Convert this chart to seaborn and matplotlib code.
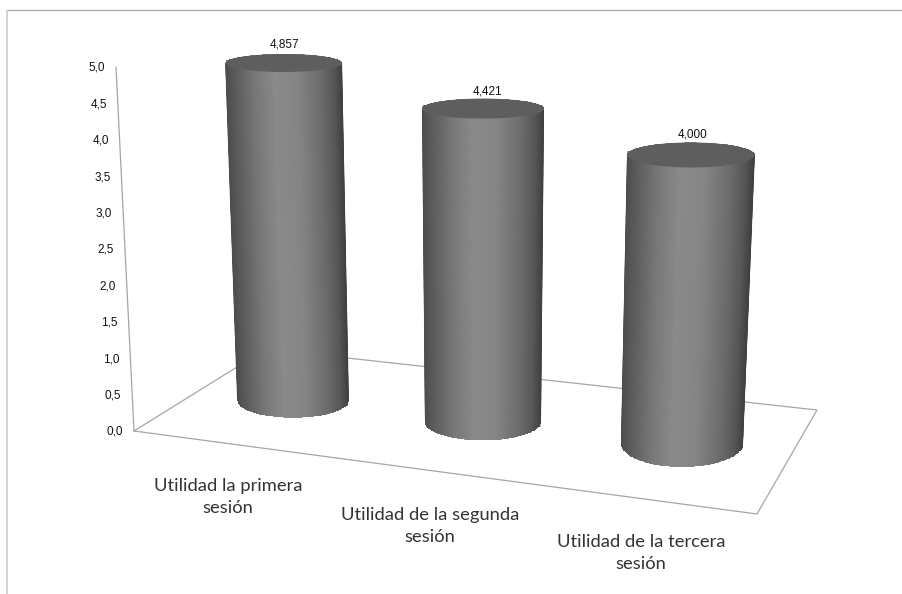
import numpy as np
import pandas as pd
import matplotlib
matplotlib.use("Agg")
import matplotlib.pyplot as plt
import matplotlib.transforms as mtransforms
from matplotlib.path import Path
from matplotlib.patches import Ellipse, PathPatch
import seaborn as sns

# Chart values
sessions = ["Utilidad la primera\nsesión", "Utilidad de la segunda\nsesión", "Utilidad de la tercera\nsesión"]
utility = [4.857, 4.421, 4.000]
value_labels = ["4,857", "4,421", "4,000"]
axis_ticks = [0.0, 0.5, 1.0, 1.5, 2.0, 2.5, 3.0, 3.5, 4.0, 4.5, 5.0]

# Layout of the perspective view, in pixels from the top-left corner
W, H = 903, 594
BAR_WIDTH = 0.6
PLANE_DATA = [(-0.3, 0.0), (0.3, 0.0), (0.7, 0.0), (1.3, 0.0), (1.7, 0.0), (2.3, 0.0),
              (-0.3, 5.0), (0.3, 5.0), (0.7, 5.0), (1.3, 5.0), (1.7, 5.0), (2.3, 5.0)]
PLANE_PIXELS = [(237, 395), (351.5, 405), (422, 417), (540.5, 427), (621, 438), (744, 448),
                (224.6, 49), (344.5, 55), (419.7, 62), (543.3, 68), (629.7, 77), (757.7, 83)]
AXIS_BASE = (134, 431)
AXIS_TOP = (116, 67)
FLOOR = [(134, 431), (266, 349), (817, 410), (757, 514)]
TOP_SQUASH = [9.0, 10.0, 12.5]
BOTTOM_SQUASH = [17.0, 19.0, 24.0]
CATEGORY_POS = [(228, 497), (430, 526), (641, 553)]
LABEL_SHIFT = [1.0, 4.5, 1.5]
LABEL_LIFT = [9.0, 7.0, 8.0]
SHADE_U = [0.0, 0.05, 0.25, 0.42, 0.62, 0.82, 0.93, 1.0]
SHADE_V = [0.30, 0.34, 0.47, 0.54, 0.52, 0.42, 0.34, 0.25]
CAP_COLOR = "#5e5e5e"
LINE_COLOR = "#a6a6a6"
TEXT_FONT = ["Liberation Sans", "DejaVu Sans"]
LABEL_FONT = ["Lato", "DejaVu Sans"]


class PlaneProjection(mtransforms.Transform):
    """Projective map from (category, value) onto the picture plane."""
    input_dims = output_dims = 2

    def __init__(self, src, dst):
        super().__init__()
        rows = []
        for (x, y), (u, v) in zip(src, dst):
            rows.append([x, y, 1, 0, 0, 0, -u * x, -u * y, -u])
            rows.append([0, 0, 0, x, y, 1, -v * x, -v * y, -v])
        # Rows are scaled so the smallest singular vector is a sensible least-squares fit
        design = np.array(rows) / np.array([1, 1, 1, 1, 1, 1, 100, 100, 100])
        self.m = (np.linalg.svd(design)[2][-1] / np.array([1, 1, 1, 1, 1, 1, 100, 100, 100])).reshape(3, 3)

    def transform_non_affine(self, values):
        pts = np.column_stack([values, np.ones(len(values))]) @ self.m.T
        return pts[:, :2] / pts[:, 2:]


sns.set_theme(style="white")
frame = pd.DataFrame({"session": sessions, "utility": utility})

fig = plt.figure(figsize=(W / 100, H / 100), dpi=100, facecolor="white")
ax = fig.add_axes([0, 0, 1, 1])
sns.barplot(data=frame, x="session", y="utility", width=BAR_WIDTH, color="#777777",
            saturation=1, ax=ax, zorder=3)
ax.set_axis_off()

# Overlay axes measured in pixels for the floor, shading and captions
px = fig.add_axes([0, 0, 1, 1])
px.set_xlim(0, W)
px.set_ylim(H, 0)
px.set_axis_off()
proj = PlaneProjection(PLANE_DATA, PLANE_PIXELS)

# Sheet border along the top and left
px.plot([7.5, W], [9.5, 9.5], color="#b0b0b0", lw=1.0, zorder=1, solid_capstyle="butt")
px.plot([7.5, 7.5], [9.5, H], color="#c8c8c8", lw=1.1, zorder=1, solid_capstyle="butt")

# Floor outline and value axis
floor = np.array(FLOOR + FLOOR[:1])
px.plot(floor[:, 0], floor[:, 1], color=LINE_COLOR, lw=0.9, zorder=2)
px.plot([AXIS_BASE[0], AXIS_TOP[0]], [AXIS_BASE[1], AXIS_TOP[1]], color=LINE_COLOR, lw=0.9, zorder=2)
axis_max = max(axis_ticks)
for tick in axis_ticks:
    f = tick / axis_max
    tx = AXIS_BASE[0] + f * (AXIS_TOP[0] - AXIS_BASE[0]) - 19
    ty = AXIS_BASE[1] + f * (AXIS_TOP[1] - AXIS_BASE[1]) + 1
    px.text(tx, ty, f"{tick:.1f}".replace(".", ","), ha="center", va="center",
            fontsize=8.5, color="#111111", family=TEXT_FONT)

# Cylinders built on the bars that seaborn placed
ANGLES = np.linspace(0, np.pi, 80)
for i, patch in enumerate(ax.patches):
    x0, w, v = patch.get_x(), patch.get_width(), patch.get_height()
    patch.set_transform(proj + px.transData)
    (tl, tr, bl, br) = proj.transform(np.array([(x0, v), (x0 + w, v), (x0, 0.0), (x0 + w, 0.0)]))
    top_c, top_a = (tl + tr) / 2, (tr[0] - tl[0]) / 2
    bot_c, bot_a = (bl + br) / 2, (br[0] - bl[0]) / 2
    tb, bb = TOP_SQUASH[i], BOTTOM_SQUASH[i]

    # Outline: down the left side, around the front of the base, up the right, over the cap
    base_arc = np.column_stack([bot_c[0] - bot_a * np.cos(ANGLES), bot_c[1] + bb * np.sin(ANGLES)])
    top_arc = np.column_stack([top_c[0] + top_a * np.cos(ANGLES), top_c[1] - tb * np.sin(ANGLES)])
    outline = np.vstack([base_arc, top_arc, base_arc[:1]])
    body = PathPatch(Path(outline), facecolor="none", edgecolor="none", transform=px.transData)
    px.add_patch(body)

    # Horizontal shading that follows the lean of the sides
    us = np.linspace(0, 1, 120)
    ts = np.linspace(-0.1, 1.2, 30)
    uu, tt = np.meshgrid(us, ts)
    left = tl[0] + tt * (bl[0] - tl[0])
    right = tr[0] + tt * (br[0] - tr[0])
    xx = left + uu * (right - left)
    yy = top_c[1] + tt * (bot_c[1] - top_c[1])
    shade = np.interp(uu, SHADE_U, SHADE_V)
    mesh = px.pcolormesh(xx, yy, shade, shading="gouraud", cmap="gray", vmin=0, vmax=1, zorder=4)
    mesh.set_clip_path(body)

    cap = Ellipse(top_c, 2 * top_a, 2 * tb, facecolor=CAP_COLOR, edgecolor="none", zorder=5)
    px.add_patch(cap)

    px.text(top_c[0] + LABEL_SHIFT[i], top_c[1] - tb - LABEL_LIFT[i], value_labels[i], ha="center",
            va="center", fontsize=8.5, color="#111111", family=TEXT_FONT, zorder=6)

# Category captions under the floor
for (cx, cy), label in zip(CATEGORY_POS, sessions):
    px.text(cx, cy, label, ha="center", va="center", fontsize=13.2,
            linespacing=1.5, color="#333333", family=LABEL_FONT, zorder=6)

px.set_xlim(0, W)
px.set_ylim(H, 0)
fig.savefig("out.png", dpi=100)
